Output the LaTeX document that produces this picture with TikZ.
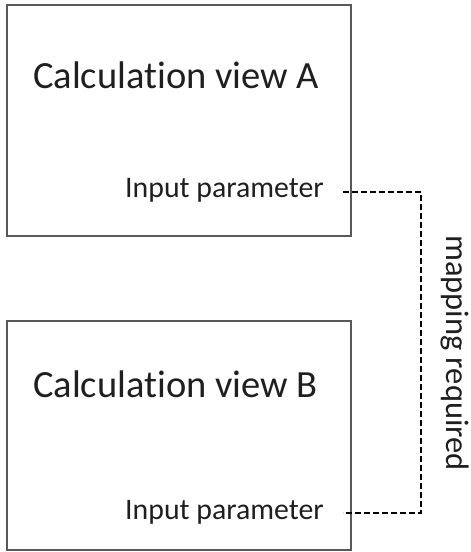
\documentclass[tikz,border=0pt]{standalone}
\usepackage{fontspec}
\setmainfont{Carlito}[Ligatures=NoCommon]
\usetikzlibrary{positioning}

\tikzset{
  viewbox/.style={draw=black!65, line width=1.4pt, minimum width=344pt, inner sep=0pt},
  viewtitle/.style={anchor=base west, inner sep=0pt, text=black!88, font=\fontsize{38.5}{42}\selectfont},
  paramtext/.style={anchor=base west, inner sep=0pt, text=black!88, font=\fontsize{29.8}{33}\selectfont},
  mapline/.style={black, line width=1.5pt, dash pattern=on 6pt off 3pt}
}

\begin{document}
\begin{tikzpicture}[x=1pt,y=-1pt]
    \useasboundingbox (0,0) rectangle (471,552);
    % view A
    \node[viewbox, minimum height=231pt] (viewA) at (179,120.5) {};
    \node[viewtitle] (titleA) at (33,88) {Calculation view A};
    \node[paramtext] (inA) at (125,197) {Input parameter};
    % view B
    \node[viewbox, minimum height=229pt] (viewB) at (179,435.5) {};
    \node[viewtitle] (titleB) at (33,397) {Calculation view B};
    \node[paramtext] (inB) at (125,519) {Input parameter};

    % mapping
    \coordinate (pA) at (343,192);
    \coordinate (pB) at (343,513);
    \coordinate (mapX) at (421,0);
    \draw[mapline] (pA) -- (pA -| mapX) -- (pB -| mapX) -- (pB);
    \node[rotate=-90, anchor=base, inner sep=0pt, text=black!88,
          font=\fontsize{32.5}{36}\selectfont] (maplbl) at (446,353) {mapping required};
\end{tikzpicture}
\end{document}
